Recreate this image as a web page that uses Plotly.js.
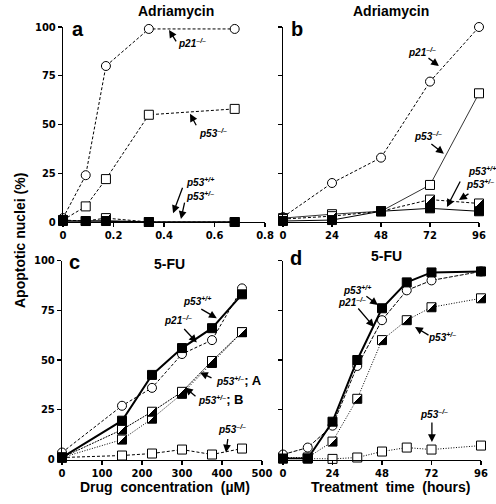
<!DOCTYPE html>
<html><head><meta charset="utf-8">
<script src="https://cdn.plot.ly/plotly-3.0.1.min.js"></script>
<style>html,body{margin:0;padding:0;background:#fff}#chart{width:496px;height:504px}</style>
</head><body>
<svg width="0" height="0" style="position:absolute"><defs><linearGradient id="halfFill" x1="0" y1="0" x2="1" y2="1"><stop offset="0.5" stop-color="#fff"/><stop offset="0.5" stop-color="#000"/></linearGradient></defs></svg>
<div id="chart"></div>
<script>
// ---------- data ----------
const aDose = [0, 0.09, 0.17, 0.34, 0.68];
const aP21KO = [2, 24, 80, 99, 99];
const aP53KO = [1, 8, 22, 55, 58];
const aP53Het = [1, 0.5, 2, 0, 0];
const aP53WT = [0.5, 0.5, 0.5, 0, 0];

const bTime = [0, 24, 48, 72, 96];
const bP21KO = [2.5, 20, 33, 72, 100];
const bP53KO = [2, 4, 5.5, 19, 66];
const bP53Het = [1.5, 3, 5.5, 11.5, 9.5];
const bP53WT = [0.5, 1, 5.5, 7, 5.5];

const cDose = [0, 150, 225, 300, 375, 450];
const cP21KO = [3.5, 27, 36, 53, 60, 86];
const cP53WT = [1, 19.5, 42.5, 56, 66, 83];
const cP53HetA = [1, 15, 24, 34, 49.5, 64];
const cP53HetB = [1, 10, 20.5, 33, 48.5, 64];
const cP53KO = [1, 2, 3, 5, 2.5, 5.5];

const dTime = [0, 12, 24, 36, 48, 60, 72, 96];
const dP53WT = [0.5, 0.5, 19, 50, 76, 89, 94, 94.5];
const dP21KO = [2.5, 6, 17, 47, 70, 85, 90, 94.5];
const dP53Het = [1, 1, 9, 30.5, 60, 70, 76.5, 81];
const dP53KO = [0.5, 0.5, 0.3, 1, 4, 6, 5, 7];

const yTicks = [0, 25, 50, 75, 100];
const aTicks = [0, 0.2, 0.4, 0.6, 0.8];
const aTickText = ['0', '0.2', '0.4', '0.6', '0.8'];
const hourTicks = [0, 24, 48, 72, 96];
const concTicks = [0, 100, 200, 300, 400, 500];

// ---------- styling ----------
const W = 496, H = 504;
const HALF = 'rgb(1, 2, 3)';
const FAM = 'Liberation Sans, Arial, Helvetica, sans-serif';
const TFAM = 'DejaVu Sans, Verdana, sans-serif';
const STY = {
  p21: {symbol: 'circle', color: '#fff'},
  ko: {symbol: 'square', color: '#fff'},
  het: {symbol: 'square', color: HALF},
  wt: {symbol: 'square', color: '#000'}
};
function tr(n, x, y, kind, dash, width) {
  return {type: 'scatter', mode: 'lines+markers', x: x, y: y,
    xaxis: 'x' + n, yaxis: 'y' + n, cliponaxis: false,
    line: {color: '#000', width: width, dash: dash},
    marker: {symbol: STY[kind].symbol, size: 9, color: STY[kind].color, line: {color: '#000', width: 1}},
    hoverinfo: 'skip', showlegend: false};
}
const FINE = '3px,2px', DOT = '1px,1.6px';
const data = [
  tr('', aDose, aP21KO, 'p21', FINE, 1),
  tr('', aDose, aP53KO, 'ko', FINE, 1),
  tr('', aDose, aP53Het, 'het', FINE, 1),
  tr('', aDose, aP53WT, 'wt', 'solid', 1.6),

  tr('2', bTime, bP21KO, 'p21', FINE, 1),
  tr('2', bTime, bP53KO, 'ko', 'solid', 0.8),
  tr('2', bTime, bP53Het, 'het', FINE, 1),
  tr('2', bTime, bP53WT, 'wt', 'solid', 1),

  tr('3', cDose, cP53KO, 'ko', FINE, 1),
  tr('3', cDose, cP21KO, 'p21', FINE, 1),
  tr('3', cDose, cP53HetB, 'het', DOT, 1),
  tr('3', cDose, cP53HetA, 'het', '2px,1px', 1),
  tr('3', cDose, cP53WT, 'wt', 'solid', 2),

  tr('4', dTime, dP53KO, 'ko', DOT, 1),
  tr('4', dTime, dP53Het, 'het', DOT, 1),
  tr('4', dTime, dP21KO, 'p21', '4px,1.5px', 1),
  tr('4', dTime, dP53WT, 'wt', 'solid', 2)
];

const tickFont = {family: TFAM, size: 10, color: '#000', weight: 'bold'};
function ax(p0, p1, range, tickvals, ticktext, anchor, showLabels, isY) {
  return {domain: isY ? [1 - p0 / H, 1 - p1 / H] : [p0 / W, p1 / W], range: range,
    tickmode: 'array', tickvals: tickvals,
    ticktext: (ticktext || tickvals.map(String)).map(t => '<b>' + t + '</b>'),
    anchor: anchor, showline: true, linecolor: '#000', linewidth: 1.2,
    ticks: 'outside', ticklen: 4, tickwidth: 1.2, tickcolor: '#000',
    showgrid: false, zeroline: false, showticklabels: showLabels,
    tickfont: tickFont, fixedrange: true};
}
const labFont = {family: FAM, size: 10, color: '#000', style: 'italic', weight: 'bold'};
function lab(xp, yp, text, xanchor, font) {
  return {xref: 'paper', yref: 'paper', x: xp / W, y: 1 - yp / H, text: text, showarrow: false,
    xanchor: xanchor || 'center', yanchor: 'middle', font: font || labFont};
}
function arr(n, x, y, axp, ayp) {
  return {xref: 'x' + n, yref: 'y' + n, x: x, y: y, ax: axp, ay: ayp, text: '', showarrow: true,
    arrowhead: 2, arrowsize: 1.2, arrowwidth: 1.3, arrowcolor: '#000'};
}
const titleFont = {family: FAM, size: 14, color: '#000', weight: 'bold'};
const letterFont = {family: FAM, size: 20, color: '#000', weight: 'bold'};
const mixFont = {family: FAM, size: 13, color: '#000', weight: 'bold'};
const P21 = 'p21<sup>–/–</sup>', KO = 'p53<sup>–/–</sup>', WT = 'p53<sup>+/+</sup>', HET = 'p53<sup>+/–</sup>';
const hetMix = s => '<i><span style="font-size:10px">' + HET + '</span></i>; ' + s;

const annotations = [
  // panel titles & letters
  lab(176, 11, 'Adriamycin', 'center', titleFont),
  lab(391, 11, 'Adriamycin', 'center', titleFont),
  lab(169, 264, '5-FU', 'center', titleFont),
  lab(386, 256, '5-FU', 'center', titleFont),
  lab(78, 29, 'a', 'center', letterFont),
  lab(297, 29, 'b', 'center', letterFont),
  lab(74, 262, 'c', 'center', letterFont),
  lab(296, 258, 'd', 'center', letterFont),
  // axis titles
  {xref: 'paper', yref: 'paper', x: 20 / W, y: 1 - 241 / H, text: 'Apoptotic nuclei (%)', showarrow: false,
   textangle: -90, xanchor: 'center', yanchor: 'middle', font: titleFont},
  lab(165, 487, 'Drug  concentration  (µM)', 'center', titleFont),
  lab(390, 487, 'Treatment  time  (hours)', 'center', titleFont),
  // panel a labels
  lab(192, 43, P21), arr('', 0.42, 98.5, 8, 13),
  lab(213, 133, KO), arr('', 0.503, 55.5, 7, 13),
  lab(200, 182, WT), arr('', 0.436, 4.5, 10, -27),
  lab(200, 196, HET), arr('', 0.467, 1.5, 4, -18),
  // panel b labels
  lab(422, 52, P21), arr('2', 76.4, 80, -12, -9),
  lab(428, 136, KO), arr('2', 78.8, 35, -14, -11),
  lab(482, 171, WT), arr('2', 80.3, 7.7, 14, -27),
  lab(480, 184, HET), arr('2', 86.2, 11.3, 11, -7),
  // panel c labels
  lab(197, 301, WT), arr('3', 387, 71, -17, -10),
  lab(178, 320, P21), arr('3', 337, 58.8, -14, -15),
  lab(214, 380, hetMix('A'), 'left', mixFont), arr('3', 345, 43.7, 13, 6),
  lab(196, 399, hetMix('B'), 'left', mixFont), arr('3', 307.5, 36.2, 12, 10),
  lab(232, 429, KO), arr('3', 410, 3.5, 2, -15),
  // panel d labels
  lab(357, 290, WT), arr('4', 46, 77.6, -13, -10),
  lab(352, 302, P21), arr('4', 44.1, 66.6, -17, -20),
  lab(442, 337, HET), arr('4', 64, 66.6, 15, 9),
  lab(434, 414, KO), arr('4', 72.2, 8.8, 0, -21)
];

const layout = {
  width: W, height: H, margin: {l: 0, r: 0, t: 0, b: 0},
  paper_bgcolor: '#fff', plot_bgcolor: 'rgba(0,0,0,0)', showlegend: false,
  font: {family: FAM, color: '#000'},
  xaxis: ax(63, 265, [0, 0.8], aTicks, aTickText, 'y', true, false),
  yaxis: ax(222, 27, [0, 100], yTicks, null, 'x', true, true),
  xaxis2: ax(283, 479, [0, 96], hourTicks, null, 'y2', true, false),
  yaxis2: ax(222, 27, [0, 100], yTicks, null, 'x2', false, true),
  xaxis3: ax(62, 262, [0, 500], concTicks, null, 'y3', true, false),
  yaxis3: ax(459.5, 260.5, [0, 100], yTicks, null, 'x3', true, true),
  xaxis4: ax(283, 481, [0, 96], hourTicks, null, 'y4', true, false),
  yaxis4: ax(459.5, 260.5, [0, 100], yTicks, null, 'x4', false, true),
  annotations: annotations
};

Plotly.newPlot('chart', data, layout, {staticPlot: true}).then(gd => {
  gd.querySelectorAll('path.point').forEach(p => {
    if (p.style.fill === HALF) p.style.fill = 'url(#halfFill)';
  });
});
</script>
</body></html>
